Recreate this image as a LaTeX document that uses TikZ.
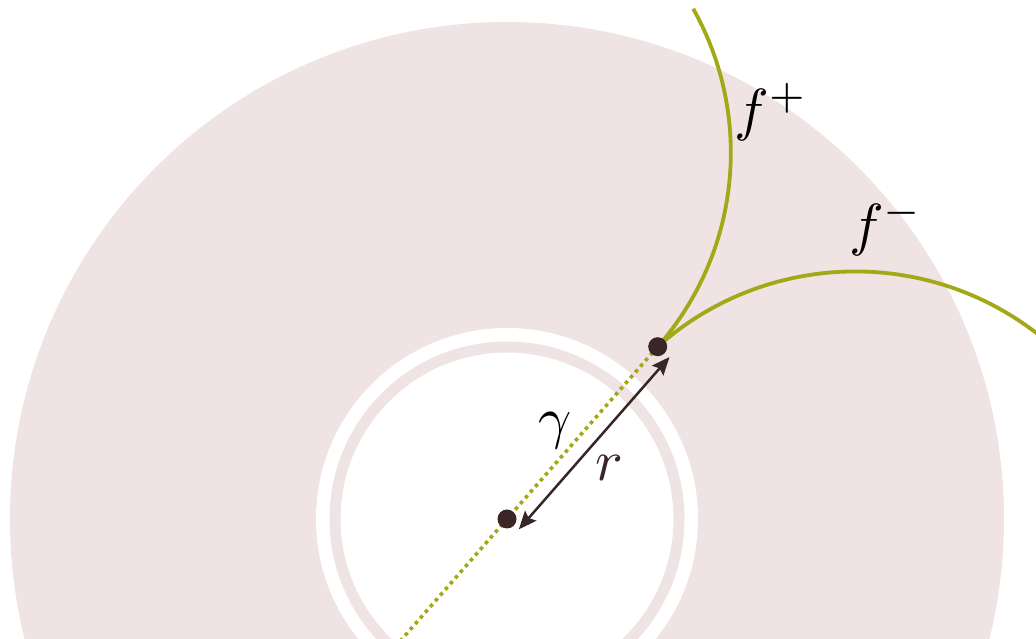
\documentclass[tikz,border=0pt]{standalone}
\usepackage{amsmath}
\usetikzlibrary{arrows.meta, calc}
\definecolor{diskpink}{RGB}{239,227,228}
\definecolor{olive}{RGB}{163,168,22}
\definecolor{darkbrown}{RGB}{58,38,38}

\begin{document}
\begin{tikzpicture}[x=1pt, y=1pt,
  dot/.style={circle, fill=darkbrown, inner sep=0pt, minimum size=19pt},
  curve/.style={olive, line width=3.8pt},
  lbl/.style={scale=5.8, inner sep=0pt}]
  \useasboundingbox (0,0) rectangle (1036,639);
  \clip (0,0) rectangle (1036,639);

  % Annulus
  \fill[diskpink] (507,120) circle[radius=497pt];
  \fill[white] (507,120) circle[radius=191pt];
  \draw[diskpink, line width=11pt] (507,120) circle[radius=172pt];

  % Points
  \coordinate (O) at (507,120);
  \coordinate (P) at (657.7,292.3);
  \coordinate (gend) at ($(P)!1.8!(O)$);

  % gamma (dotted)
  \draw[olive, line width=3.6pt, dash pattern=on 3.6pt off 4pt] (P) -- (gend);

  % f+ and f-
  \draw[curve] (P) arc[start angle=-41.3, end angle=29.3, radius=294pt];
  \draw[curve] (P) arc[start angle=131.7, end angle=48, radius=297pt];

  % r
  \draw[darkbrown, line width=2.5pt, {Stealth[length=18pt, width=15pt, inset=3pt]}-{Stealth[length=18pt, width=15pt, inset=3pt]}]
    ($(O)!15.7pt!-90:(P)$) -- ($(P)!15.7pt!90:(O)$);

  \node[dot] (o) at (O) {};
  \node[dot] (p) at (P) {};

  % Labels
  \node[lbl] (gam) at (555,208) {$\gamma$};
  \node[lbl, text=darkbrown] (rlab) at (609,171) {$r$};
  \node[lbl] (fp) at (771,527) {$f^{+}$};
  \node[lbl] (fm) at (886,412) {$f^{-}$};
\end{tikzpicture}
\end{document}
